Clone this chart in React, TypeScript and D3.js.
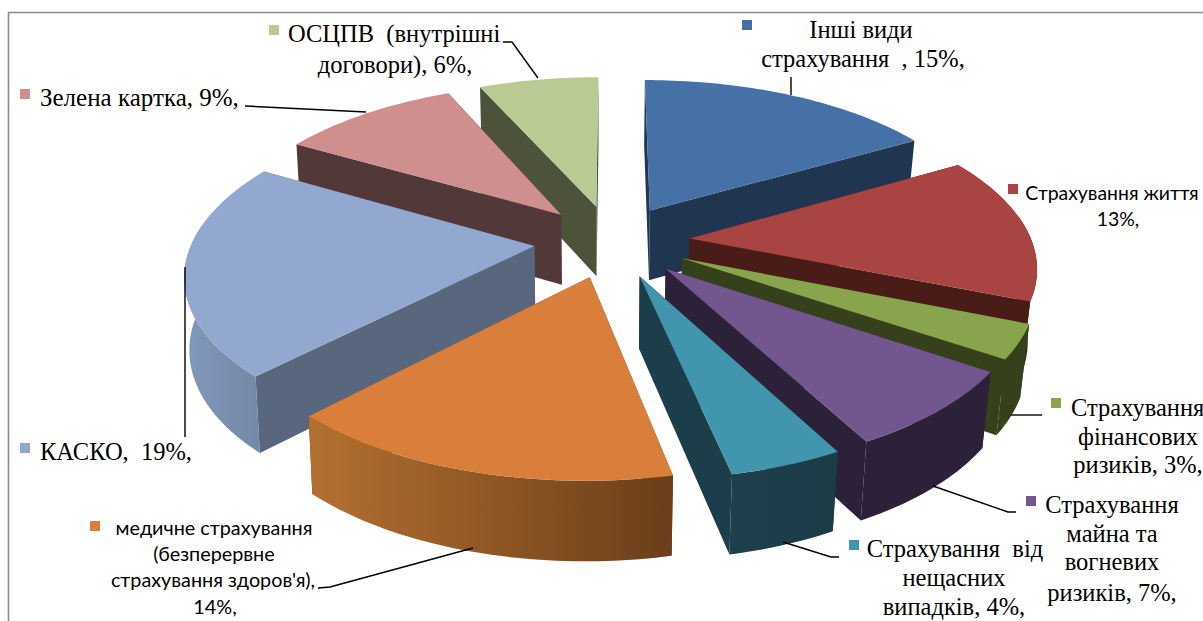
import React from "react";
import * as d3 from "d3";

// Insurance premium structure, percent by line of business, clockwise from 12 o'clock
const categories = [
  "Інші види страхування",
  "Страхування життя",
  "Страхування фінансових ризиків",
  "Страхування майна та вогневих ризиків",
  "Страхування від нещасних випадків",
  "медичне страхування (безперервне страхування здоров'я)",
  "КАСКО",
  "Зелена картка",
  "ОСЦПВ (внутрішні договори)",
];
const shares = [15, 13, 3, 7, 4, 14, 19, 9, 6];

const topColors = ["#4571A7", "#A84442", "#88A44D", "#71578D", "#4196AE", "#D97F3B", "#93A8CF", "#CF8F8E", "#B9CB93"];
const cutColors = ["#203550", "#4A1C18", "#36401A", "#2C2138", "#1B3E4A", "#6B3F1C", "#58677E", "#533839", "#4C533A"];
const rimLeftColors = ["#203550", "#4A1C18", "#36401A", "#2C2138", "#1C404C", "#B4702F", "#8298BB", "#533839", "#4C533A"];
const rimRightColors = ["#203550", "#4A1C18", "#36401A", "#2C2138", "#1B3B47", "#6A3E1A", "#7488A8", "#533839", "#4C533A"];

// Back-to-front painting order
const paintOrder = [8, 7, 6, 5, 0, 1, 2, 3, 4];

type LabelLine = { text: string; x: number; y: number; anchor?: string };
type LabelBlock = { slice: number; sq: [number, number]; font: "serif" | "sans"; size: number; lines: LabelLine[] };

const labels: LabelBlock[] = [
  { slice: 0, sq: [742, 20], font: "serif", size: 24.5, lines: [
    { text: "Інші види", x: 861, y: 38 },
    { text: "страхування  , 15%,", x: 863, y: 67 },
  ] },
  { slice: 1, sq: [1008, 184], font: "sans", size: 19.4, lines: [
    { text: "Страхування життя", x: 1112, y: 200 },
    { text: "13%,", x: 1118, y: 226 },
  ] },
  { slice: 2, sq: [1051, 398], font: "serif", size: 24.5, lines: [
    { text: "Страхування", x: 1071, y: 416, anchor: "start" },
    { text: "фінансових", x: 1138, y: 445 },
    { text: "ризиків, 3%,", x: 1138, y: 473 },
  ] },
  { slice: 3, sq: [1026, 496], font: "serif", size: 24.5, lines: [
    { text: "Страхування", x: 1112, y: 513 },
    { text: "майна та", x: 1112, y: 542 },
    { text: "вогневих", x: 1112, y: 570 },
    { text: "ризиків, 7%,", x: 1112, y: 601 },
  ] },
  { slice: 4, sq: [849, 540], font: "serif", size: 24.5, lines: [
    { text: "Страхування  від", x: 955, y: 557 },
    { text: "нещасних", x: 954, y: 586 },
    { text: "випадків, 4%,", x: 954, y: 615 },
  ] },
  { slice: 5, sq: [90, 521], font: "sans", size: 19.8, lines: [
    { text: "медичне страхування", x: 214, y: 535 },
    { text: "(безперервне", x: 214, y: 561 },
    { text: "страхування здоров'я),", x: 213, y: 587 },
    { text: "14%,", x: 215, y: 614 },
  ] },
  { slice: 6, sq: [20, 443], font: "serif", size: 24.5, lines: [
    { text: "КАСКО,  19%,", x: 40, y: 460, anchor: "start" },
  ] },
  { slice: 7, sq: [20, 89], font: "serif", size: 25, lines: [
    { text: "Зелена картка, 9%,", x: 40, y: 106, anchor: "start" },
  ] },
  { slice: 8, sq: [269, 25], font: "serif", size: 24.5, lines: [
    { text: "ОСЦПВ  (внутрішні", x: 288, y: 42, anchor: "start" },
    { text: "договори), 6%,", x: 395, y: 73 },
  ] },
];

// Leader lines between the callouts and the pie rim
const leaders: [number, number][][] = [
  [[791, 77], [791, 95]],
  [[1042, 415], [1011, 415]],
  [[1016, 512], [1008, 512], [933, 486]],
  [[839, 557], [831, 557], [783, 542]],
  [[318, 588], [330, 587], [473, 548]],
  [[185, 437], [185, 267]],
  [[245, 106], [366, 112]],
  [[503, 42], [512, 42], [538, 78]],
];

const serif = "'Liberation Serif', 'Times New Roman', serif";
const sans = "Lato, 'Noto Sans', sans-serif";

// Tilted-plane projection of the pie
const cx = 612;
const cy = 241;
const radius = 342;
const explode = 78;
const tilt = 0.466;
const viewDist = 2200;
const wallDrop = 71;

type Pt = [number, number];

function project(gx: number, gy: number, bottom: boolean): Pt {
  const s = 1 / (1 - gy / viewDist);
  const dx = gx * s;
  const dy = tilt * gy * s;
  const shrink = dx > 0 ? 0.978 : 0.988;
  return bottom ? [cx + dx * shrink, cy + wallDrop + dy * 1.04] : [cx + dx, cy + dy];
}

const pieGen = d3.pie<number>().sort(null).startAngle(0).endAngle(2 * Math.PI);
const arcs = pieGen(shares);
const pathOf = d3.line<Pt>().x((d) => d[0]).y((d) => d[1]);

function apexGround(mid: number): Pt {
  return [explode * Math.sin(mid), -explode * Math.cos(mid)];
}

function rimGround(mid: number, a: number): Pt {
  const [ax, ay] = apexGround(mid);
  return [ax + radius * Math.sin(a), ay - radius * Math.cos(a)];
}

function sampleAngles(a0: number, a1: number): number[] {
  const n = Math.max(2, Math.ceil(Math.abs(a1 - a0) / 0.02));
  return d3.range(n + 1).map((i) => a0 + ((a1 - a0) * i) / n);
}

const silhouetteFrom = (82 * Math.PI) / 180;
const silhouetteTo = (278 * Math.PI) / 180;

function Slice({ index }: { index: number }) {
  const d = arcs[index];
  const mid = (d.startAngle + d.endAngle) / 2;
  const apex = apexGround(mid);
  const top = (a: number) => { const g = rimGround(mid, a); return project(g[0], g[1], false); };
  const bot = (a: number) => { const g = rimGround(mid, a); return project(g[0], g[1], true); };
  const apexTop = project(apex[0], apex[1], false);
  const apexBot = project(apex[0], apex[1], true);

  const wall = (a: number) => {
    const poly: Pt[] = [apexTop, top(a), bot(a), apexBot];
    return <path d={(pathOf(poly) as string) + "Z"} fill={cutColors[index]} />;
  };

  const from = Math.max(d.startAngle, silhouetteFrom);
  const to = Math.min(d.endAngle, silhouetteTo);
  let rimWall: React.ReactNode = null;
  if (to > from) {
    const angles = sampleAngles(from, to);
    const poly: Pt[] = [...angles.map(top), ...angles.slice().reverse().map(bot)];
    const xs = poly.map((p) => p[0]);
    rimWall = (
      <>
        <linearGradient
          id={`rim-${index}`}
          gradientUnits="userSpaceOnUse"
          x1={d3.min(xs)}
          x2={d3.max(xs)}
          y1={0}
          y2={0}
        >
          <stop offset="0" stopColor={rimLeftColors[index]} />
          <stop offset="1" stopColor={rimRightColors[index]} />
        </linearGradient>
        <path d={(pathOf(poly) as string) + "Z"} fill={`url(#rim-${index})`} />
      </>
    );
  }

  const face: Pt[] = [apexTop, ...sampleAngles(d.startAngle, d.endAngle).map(top)];
  return (
    <g>
      {wall(d.startAngle)}
      {wall(d.endAngle)}
      {rimWall}
      <path d={(pathOf(face) as string) + "Z"} fill={topColors[index]} />
    </g>
  );
}

export default function App() {
  return (
    <svg
      width={1203}
      height={621}
      viewBox="0 0 1203 621"
      style={{ position: "fixed", left: 0, top: 0, background: "#fff", display: "block" }}
    >
      <title>{categories.join("; ")}</title>
      <rect x={0} y={0} width={1203} height={621} fill="#fff" />
      <path d="M8.5 621V12.5H1203" fill="none" stroke="#8C8C8C" strokeWidth={1.6} />
      {paintOrder.map((i) => <Slice key={i} index={i} />)}
      {leaders.map((l, i) => (
        <path key={i} d={pathOf(l as Pt[]) as string} fill="none" stroke="#000" strokeWidth={1.4} />
      ))}
      {labels.map((b) => (
        <g key={b.slice}>
          <rect x={b.sq[0]} y={b.sq[1]} width={10} height={10} fill={topColors[b.slice]} />
          {b.lines.map((ln, i) => (
            <text
              key={i}
              x={ln.x}
              y={ln.y}
              textAnchor={ln.anchor ?? "middle"}
              fontFamily={b.font === "serif" ? serif : sans}
              fontSize={b.size}
              fill="#000"
              style={{ whiteSpace: "pre" }}
            >
              {ln.text}
            </text>
          ))}
        </g>
      ))}
    </svg>
  );
}
